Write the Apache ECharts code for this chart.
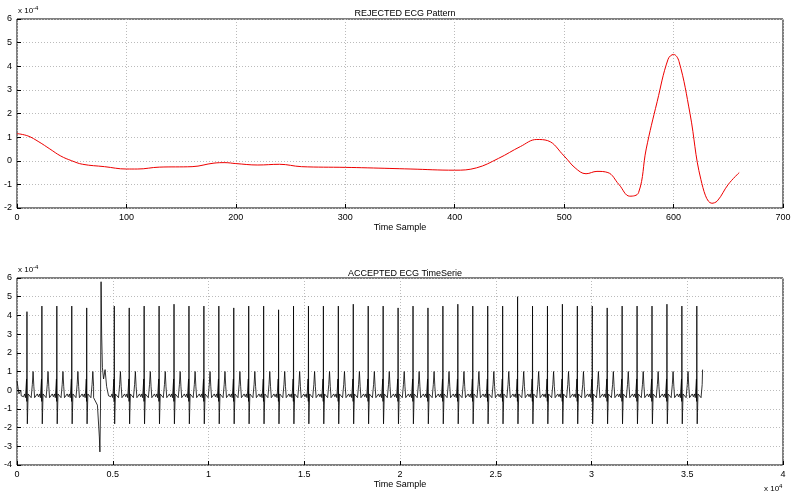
<!DOCTYPE html>
<html>
<head>
<meta charset="utf-8">
<script src="https://cdn.jsdelivr.net/npm/echarts@6/dist/echarts.min.js"></script>
<style>html,body{margin:0;background:#fff}#c{width:799px;height:498px}</style>
</head>
<body>
<div id="c"></div>
<script>
// rejected pattern, [sample, value x1e-4]
const rejectedX = [0,10,20,30,40,50,60,80,100,110,130,160,180,190,200,220,240,260,300,320,360,400,420,440,460,475,485,500,510,520,530,540,550,560,568,575,585,595,600,605,615,625,635,640,650,660];
const rejectedY = [1.15,1.05,0.8,0.5,0.2,0.0,-0.15,-0.25,-0.35,-0.35,-0.27,-0.25,-0.1,-0.08,-0.12,-0.18,-0.15,-0.25,-0.28,-0.3,-0.35,-0.4,-0.3,0.1,0.6,0.9,0.85,0.2,-0.3,-0.55,-0.45,-0.5,-1.0,-1.5,-1.35,0.5,2.5,4.3,4.5,4.2,2.0,-0.8,-1.8,-1.7,-1.0,-0.5];

// accepted series: R peak positions and heights, plus one beat template
const beatPos = [520,1300,2080,2860,3640,5080,5860,6640,7420,8200,8980,9760,10540,11320,12100,12880,13660,14440,15220,16000,16780,17560,18340,19120,19900,20680,21460,22240,23020,23800,24580,25360,26140,26920,27700,28480,29260,30040,30820,31600,32380,33160,33940,34720,35500];
const beatAmp = [4.2,4.5,4.5,4.5,4.4,4.5,4.4,4.5,4.5,4.6,4.5,4.5,4.5,4.4,4.5,4.5,4.3,4.5,4.5,4.5,4.5,4.6,4.5,4.5,4.4,4.5,4.4,4.5,4.6,4.5,4.5,4.5,5.0,4.5,4.5,4.6,4.5,4.5,4.4,4.5,4.5,4.5,4.6,4.5,4.5];
const tplOff = [-300,-240,-180,-120,-80,-40,-20,-8,0,8,20,35,60,100,160,220,280,320,340,360,400,440];
const tplVal = [-0.3,-0.2,-0.35,-0.2,-0.4,-0.3,0.6,-0.6,1,-0.8,-1.8,-1.2,-0.2,-0.3,-0.2,-0.4,0.3,1.0,0.9,0.2,-0.4,-0.3];
const anomaly = [[4000,-0.4],[4200,-0.8],[4300,-2.5],[4330,-3.3],[4360,-1.0],[4390,5.8],[4420,3.0],[4460,1.2],[4520,0.6],[4600,1.1],[4680,0.2]];

const rejected = rejectedX.map((x, i) => [x, rejectedY[i]]);
let accepted = [[0, 0.5], [100, -0.2], [200, 0.0]];
beatPos.forEach((p, b) => {
  tplOff.forEach((o, i) => {
    const v = o === 0 ? beatAmp[b] : tplVal[i];
    accepted.push([p + o, v]);
  });
  if (b === 4) accepted = accepted.concat(anomaly);
});
accepted = accepted.filter(d => d[0] <= 35800).sort((a, b) => a[0] - b[0]);
accepted.push([35800, 1.1]);

const font = 'Arial, "Liberation Sans", sans-serif';
const lbl = { color: '#000', fontSize: 9, fontFamily: font, margin: 5 };
const split = { show: true, lineStyle: { color: '#bbb', type: [1, 2] } };
function xAx(idx, max, interval, fmt) {
  return { type: 'value', gridIndex: idx, min: 0, max, interval,
    axisLine: { show: false, onZero: false }, axisTick: { inside: true, length: 4, lineStyle: { color: '#000' } },
    axisLabel: Object.assign({ formatter: fmt }, lbl), splitLine: split,
    name: 'Time Sample', nameLocation: 'middle', nameGap: 14,
    nameTextStyle: { color: '#000', fontSize: 9, fontFamily: font } };
}
function yAx(idx, min, max) {
  return { type: 'value', gridIndex: idx, min, max, interval: 1,
    axisLine: { show: false, onZero: false }, axisTick: { inside: true, length: 4, lineStyle: { color: '#000' } },
    axisLabel: lbl, splitLine: split };
}
const chart = echarts.init(document.getElementById('c'));
chart.setOption({
  animation: false,
  backgroundColor: '#fff',
  title: [
    { text: 'REJECTED ECG Pattern', left: 400, top: 4, textAlign: 'center', textStyle: { fontSize: 9, fontWeight: 'normal', color: '#000', fontFamily: font } },
    { text: 'ACCEPTED ECG TimeSerie', left: 400, top: 264, textAlign: 'center', textStyle: { fontSize: 9, fontWeight: 'normal', color: '#000', fontFamily: font } }
  ],
  grid: [
    { left: 17, right: 16, top: 19, height: 189, show: true, borderColor: '#000', borderWidth: 1 },
    { left: 17, right: 16, top: 278, height: 187, show: true, borderColor: '#000', borderWidth: 1 }
  ],
  xAxis: [xAx(0, 700, 100), xAx(1, 40000, 5000, v => String(v / 10000))],
  yAxis: [yAx(0, -2, 6), yAx(1, -4, 6)],
  graphic: [
    { type: 'text', left: 18, top: 5, style: { text: '{a|x 10}{b|-4}', rich: { a: { fontSize: 8, fontFamily: font, fill: '#000' }, b: { fontSize: 6, fontFamily: font, fill: '#000', verticalAlign: 'top', padding: [0, 0, 6, 0] } } } },
    { type: 'text', left: 18, top: 264, style: { text: '{a|x 10}{b|-4}', rich: { a: { fontSize: 8, fontFamily: font, fill: '#000' }, b: { fontSize: 6, fontFamily: font, fill: '#000', verticalAlign: 'top', padding: [0, 0, 6, 0] } } } },
    { type: 'text', left: 764, top: 483, style: { text: '{a|x 10}{b|4}', rich: { a: { fontSize: 8, fontFamily: font, fill: '#000' }, b: { fontSize: 6, fontFamily: font, fill: '#000', padding: [0, 0, 6, 0] } } } }
  ],
  series: [
    { type: 'line', xAxisIndex: 0, yAxisIndex: 0, data: rejected, smooth: 0.4, showSymbol: false, lineStyle: { color: '#e00', width: 1 } },
    { type: 'line', xAxisIndex: 1, yAxisIndex: 1, data: accepted, showSymbol: false, lineStyle: { color: '#000', width: 0.8 } }
  ]
});
</script>
</body>
</html>
